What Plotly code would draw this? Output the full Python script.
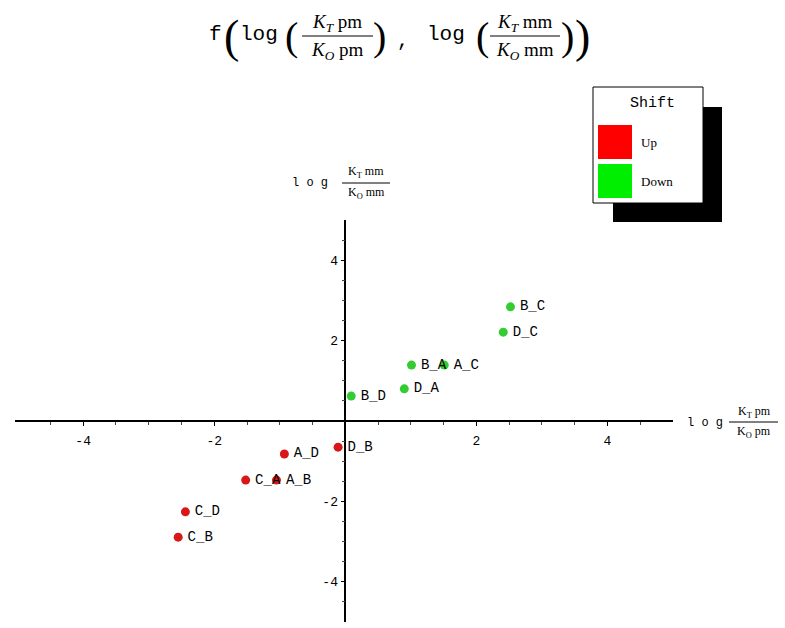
import plotly.graph_objects as go

# ---------------- data ----------------
up_labels = ["A_D", "D_B", "C_A", "A_B", "C_D", "C_B"]
up_x = [-0.93, -0.11, -1.52, -1.05, -2.44, -2.55]
up_y = [-0.82, -0.65, -1.47, -1.47, -2.26, -2.89]

down_labels = ["B_C", "D_C", "B_A", "A_C", "D_A", "B_D"]
down_x = [2.52, 2.41, 1.01, 1.51, 0.90, 0.09]
down_y = [2.84, 2.21, 1.39, 1.39, 0.80, 0.62]

major_ticks = [-4, -2, 2, 4]
major_text = ["-4", "-2", "2", "4"]
minor_ticks = [-4.5, -3.5, -3, -2.5, -1.5, -1, -0.5, 0.5, 1, 1.5, 2.5, 3, 3.5, 4.5]

legend_title = "Shift"
legend_names = ["Up", "Down"]
legend_colors = ["#ff0000", "#00ee00"]

# ---------------- layout geometry ----------------
W, H = 785, 628
ML, MR, MT, MB = 15, 112, 220, 6
PW, PH = W - ML - MR, H - MT - MB


def px(x):
    return (x - ML) / PW


def py(y):
    return (H - MB - y) / PH


MONO = "Liberation Mono, Courier New, monospace"
SERIF = "Liberation Serif, Times New Roman, serif"

fig = go.Figure()

fig.add_trace(go.Scatter(
    x=up_x, y=up_y, text=up_labels, mode="markers+text",
    textposition="middle right", texttemplate="\u2009%{text}",
    textfont=dict(family=MONO, size=14, color="black"),
    marker=dict(color="#d81818", size=9),
    name="Up", showlegend=False, cliponaxis=False,
))
fig.add_trace(go.Scatter(
    x=down_x, y=down_y, text=down_labels, mode="markers+text",
    textposition="middle right", texttemplate="\u2009%{text}",
    textfont=dict(family=MONO, size=14, color="black"),
    marker=dict(color="#33cc33", size=9),
    name="Down", showlegend=False, cliponaxis=False,
))

axis_common = dict(
    showgrid=False, zeroline=False, showline=True, linecolor="black",
    linewidth=1.5, anchor="free", tickmode="array",
    ticks="outside", ticklen=4, tickwidth=1, tickcolor="black",
    tickfont=dict(family=MONO, size=13, color="black"),
    minor=dict(tickmode="array", tickvals=minor_ticks, ticks="outside",
               ticklen=3, tickwidth=1, tickcolor="#444"),
)

fig.update_layout(
    width=W, height=H,
    margin=dict(l=ML, r=MR, t=MT, b=MB),
    paper_bgcolor="white", plot_bgcolor="white",
    xaxis=dict(range=[-5.04, 5.0], position=0.5, ticklabelstandoff=4,
               tickvals=major_ticks, ticktext=major_text, **axis_common),
    yaxis=dict(range=[-5.0, 5.0], position=5.04 / 10.04,
               tickvals=major_ticks, ticktext=major_text, **axis_common),
)

annotations = []
shapes = []


def txt(x, y, s, size, family=MONO, xanchor="center", color="black"):
    annotations.append(dict(
        x=px(x), y=py(y), xref="paper", yref="paper", text=s,
        showarrow=False, xanchor=xanchor, yanchor="middle",
        font=dict(family=family, size=size, color=color)))


def hline(x0, x1, y, width=1):
    shapes.append(dict(type="line", xref="paper", yref="paper",
                       x0=px(x0), x1=px(x1), y0=py(y), y1=py(y),
                       line=dict(color="black", width=width)))


# ---------------- title ----------------
txt(215, 34, "f", 21)
txt(231, 37, "(", 46, SERIF)
txt(259, 34, "log", 21)
txt(291, 37, "(", 40, SERIF)
txt(337, 23, "<i>K</i><sub><i>T</i></sub> pm", 19, SERIF)
hline(302, 373, 36)
txt(337, 51, "<i>K</i><sub><i>O</i></sub> pm", 19, SERIF)
txt(379, 37, ")", 40, SERIF)
txt(403, 40, ",", 20, MONO)
txt(446, 34, "log", 21)
txt(482, 37, "(", 40, SERIF)
txt(525, 23, "<i>K</i><sub><i>T</i></sub> mm", 19, SERIF)
hline(490, 560, 36)
txt(525, 51, "<i>K</i><sub><i>O</i></sub> mm", 19, SERIF)
txt(567, 37, ")", 40, SERIF)
txt(582, 37, ")", 46, SERIF)

# ---------------- axis labels ----------------
txt(705, 423, "l o g", 12)
txt(754, 412, "K<sub>T</sub> pm", 12, SERIF)
hline(729, 778, 422)
txt(754, 432, "K<sub>O</sub> pm", 12, SERIF)

txt(310, 183, "l o g", 12)
txt(366, 172, "K<sub>T</sub> mm", 12, SERIF)
hline(342, 390, 183)
txt(366, 193, "K<sub>O</sub> mm", 12, SERIF)

# ---------------- legend ----------------
shapes.append(dict(type="rect", xref="paper", yref="paper",
                   x0=px(613), x1=px(722), y0=py(107), y1=py(222),
                   fillcolor="black", line=dict(width=0)))
shapes.append(dict(type="rect", xref="paper", yref="paper",
                   x0=px(593), x1=px(703), y0=py(87), y1=py(203),
                   fillcolor="white", line=dict(color="black", width=1)))
txt(652, 104, legend_title, 15, MONO)
sw_tops = [125, 164]
for name, col, top in zip(legend_names, legend_colors, sw_tops):
    shapes.append(dict(type="rect", xref="paper", yref="paper",
                       x0=px(598), x1=px(632), y0=py(top), y1=py(top + 34),
                       fillcolor=col, line=dict(width=0)))
    txt(639, top + 17, name, 13, SERIF, xanchor="left")

fig.update_layout(annotations=annotations, shapes=shapes)

fig.write_html("out.html")
